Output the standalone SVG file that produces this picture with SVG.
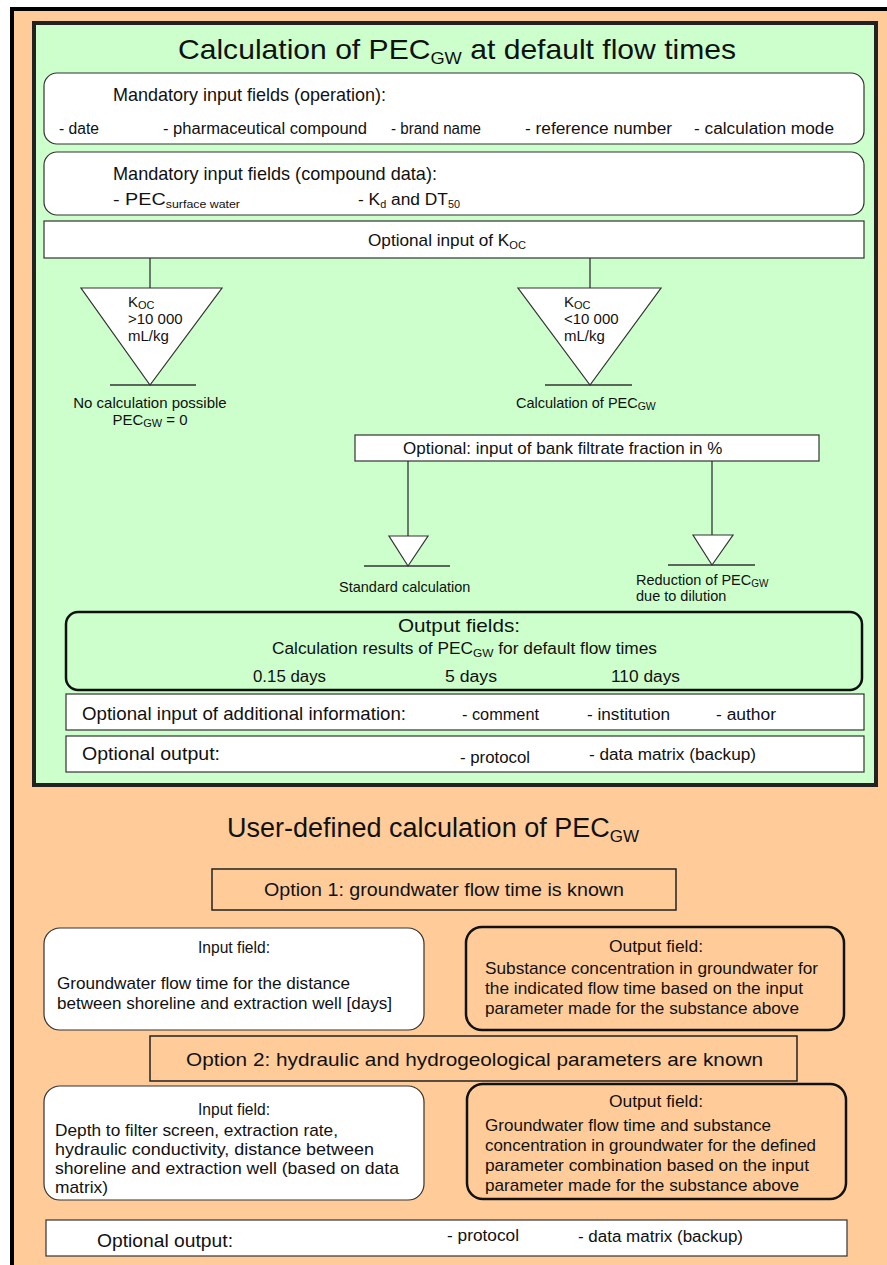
<svg xmlns="http://www.w3.org/2000/svg" width="887" height="1265" viewBox="0 0 887 1265">
<style>
.n{font-family:"Liberation Sans",Arial,sans-serif;fill:#111}
.r{font-family:"Liberation Sans",Arial,sans-serif;fill:#111}
.box{fill:#fff;stroke:#333;stroke-width:1.2}
.obox{fill:#ffcc99;stroke:#222;stroke-width:1.5}
.thick{stroke:#111;stroke-width:2.5}
.ln{stroke:#333;stroke-width:1.3;fill:none}
.tri{fill:#fff;stroke:#333;stroke-width:1.2}
</style>
<rect x="0" y="0" width="887" height="1265" fill="#fff"/>
<g id="outer">
<rect x="12" y="9" width="890" height="1270" fill="#ffcc99" stroke="#000" stroke-width="4"/>
</g>
<g id="default-panel">
<rect x="34" y="23" width="842" height="762" fill="#ccffcc" stroke="#222" stroke-width="4"/>
<text class="n" x="178" y="59" font-size="28" textLength="558" lengthAdjust="spacingAndGlyphs">Calculation of PEC<tspan dy="5" font-size="17">GW</tspan><tspan dy="-5"> at default flow times</tspan></text>
</g>
<g id="op-fields">
<rect class="box" x="44" y="73" width="820" height="71" rx="13"/>
<text class="n" x="113" y="101" font-size="19" textLength="273" lengthAdjust="spacingAndGlyphs">Mandatory input fields (operation):</text>
<text class="n" x="59" y="134" font-size="16" textLength="40" lengthAdjust="spacingAndGlyphs">- date</text>
<text class="n" x="163" y="134" font-size="16" textLength="204" lengthAdjust="spacingAndGlyphs">- pharmaceutical compound</text>
<text class="n" x="391" y="134" font-size="16" textLength="90" lengthAdjust="spacingAndGlyphs">- brand name</text>
<text class="n" x="525" y="134" font-size="16" textLength="147" lengthAdjust="spacingAndGlyphs">- reference number</text>
<text class="n" x="694" y="134" font-size="16" textLength="140" lengthAdjust="spacingAndGlyphs">- calculation mode</text>
</g>
<g id="compound-fields">
<rect class="box" x="44" y="152" width="820" height="63" rx="13"/>
<text class="n" x="113" y="180" font-size="19" textLength="324" lengthAdjust="spacingAndGlyphs">Mandatory input fields (compound data):</text>
<text class="n" x="113" y="205" font-size="16" textLength="127" lengthAdjust="spacingAndGlyphs">- PEC<tspan dy="3" font-size="10">surface water</tspan></text>
<text class="n" x="358" y="205" font-size="16" textLength="102" lengthAdjust="spacingAndGlyphs">- K<tspan dy="3" font-size="10">d</tspan><tspan dy="-3"> and DT</tspan><tspan dy="3" font-size="10">50</tspan></text>
</g>
<g id="koc-input">
<rect class="box" x="44" y="221" width="820" height="37"/>
<text class="n" x="368" y="246" font-size="17" textLength="158" lengthAdjust="spacingAndGlyphs">Optional input of K<tspan dy="3" font-size="11">OC</tspan></text>
</g>
<g id="connectors">
<line class="ln" x1="150" y1="258" x2="150" y2="288"/>
<line class="ln" x1="590" y1="258" x2="590" y2="288"/>
<line class="ln" x1="408" y1="461" x2="408" y2="536"/>
<line class="ln" x1="712" y1="461" x2="712" y2="535"/>
</g>
<g id="koc-high">
<polygon class="tri" points="81,288 222,288 150,385"/>
<line class="ln" x1="110" y1="385" x2="196" y2="385"/>
<text class="r" x="128" y="307" font-size="15">K<tspan font-size="11" dy="2">OC</tspan></text>
<text class="r" x="128" y="324" font-size="15">&gt;10 000</text>
<text class="r" x="128" y="341" font-size="15">mL/kg</text>
<text class="r" x="150" y="408" font-size="15" text-anchor="middle">No calculation possible</text>
<text class="r" x="150" y="425" font-size="15" text-anchor="middle">PEC<tspan font-size="11" dy="2">GW</tspan><tspan dy="-2"> = 0</tspan></text>
</g>
<g id="koc-low">
<polygon class="tri" points="518,288 661,288 590,385"/>
<line class="ln" x1="545" y1="385" x2="632" y2="385"/>
<text class="r" x="564" y="307" font-size="15">K<tspan font-size="11" dy="2">OC</tspan></text>
<text class="r" x="564" y="324" font-size="15">&lt;10 000</text>
<text class="r" x="564" y="341" font-size="15">mL/kg</text>
<text class="r" x="516" y="408" font-size="14.5">Calculation of PEC<tspan font-size="10.5" dy="2">GW</tspan></text>
</g>
<g id="bank-filtrate">
<rect class="box" x="355" y="435" width="464" height="26"/>
<text class="r" x="403" y="454" font-size="17">Optional: input of bank filtrate fraction in %</text>
</g>
<g id="standard">
<polygon class="tri" points="389,536 428,536 408,566"/>
<line class="ln" x1="364" y1="566" x2="450" y2="566"/>
<text class="r" x="339" y="592" font-size="14.5">Standard calculation</text>
</g>
<g id="reduction">
<polygon class="tri" points="693,535 733,535 712,565"/>
<line class="ln" x1="668" y1="565" x2="755" y2="565"/>
<text class="r" x="636" y="585" font-size="14.5">Reduction of PEC<tspan font-size="10" dy="2">GW</tspan></text>
<text class="r" x="636" y="601" font-size="14.5">due to dilution</text>
</g>
<g id="output-fields">
<rect x="66" y="612" width="796" height="78" rx="12" fill="#ccffcc" class="thick"/>
<text class="n" x="398" y="632" font-size="19" textLength="122" lengthAdjust="spacingAndGlyphs">Output fields:</text>
<text class="n" x="272" y="654" font-size="16" textLength="385" lengthAdjust="spacingAndGlyphs">Calculation results of PEC<tspan dy="3" font-size="11">GW</tspan><tspan dy="-3"> for default flow times</tspan></text>
<text class="n" x="253" y="682" font-size="16" textLength="73" lengthAdjust="spacingAndGlyphs">0.15 days</text>
<text class="n" x="445" y="682" font-size="16" textLength="52" lengthAdjust="spacingAndGlyphs">5 days</text>
<text class="n" x="611" y="682" font-size="16" textLength="69" lengthAdjust="spacingAndGlyphs">110 days</text>
</g>
<g id="additional-info">
<rect class="box" x="66" y="694" width="798" height="36"/>
<text class="n" x="82" y="720" font-size="19" textLength="324" lengthAdjust="spacingAndGlyphs">Optional input of additional information:</text>
<text class="n" x="462" y="720" font-size="16" textLength="77" lengthAdjust="spacingAndGlyphs">- comment</text>
<text class="n" x="587" y="720" font-size="16" textLength="83" lengthAdjust="spacingAndGlyphs">- institution</text>
<text class="n" x="716" y="720" font-size="16" textLength="60" lengthAdjust="spacingAndGlyphs">- author</text>
</g>
<g id="optional-output-1">
<rect class="box" x="66" y="736" width="798" height="36"/>
<text class="n" x="82" y="760" font-size="19" textLength="138" lengthAdjust="spacingAndGlyphs">Optional output:</text>
<text class="n" x="460" y="763" font-size="16" textLength="70" lengthAdjust="spacingAndGlyphs">- protocol</text>
<text class="n" x="589" y="760" font-size="16" textLength="167" lengthAdjust="spacingAndGlyphs">- data matrix (backup)</text>
</g>
<g id="user-title">
<text class="n" x="227" y="837" font-size="27">User-defined calculation of PEC<tspan dy="5" font-size="17">GW</tspan></text>
</g>
<g id="option1">
<rect class="obox" x="212" y="869" width="464" height="41"/>
<text class="n" x="264" y="896" font-size="19" textLength="360" lengthAdjust="spacingAndGlyphs">Option 1: groundwater flow time is known</text>
</g>
<g id="input1">
<rect class="box" x="44" y="928" width="380" height="102" rx="16"/>
<text class="n" x="198" y="953" font-size="16" textLength="72" lengthAdjust="spacingAndGlyphs">Input field:</text>
<text class="n" x="57" y="989" font-size="17" textLength="293" lengthAdjust="spacingAndGlyphs">Groundwater flow time for the distance</text>
<text class="n" x="57" y="1009" font-size="17" textLength="335" lengthAdjust="spacingAndGlyphs">between shoreline and extraction well [days]</text>
</g>
<g id="output1">
<rect x="466" y="927" width="378" height="103" rx="16" fill="#ffcc99" class="thick"/>
<text class="n" x="609" y="952" font-size="16" textLength="94" lengthAdjust="spacingAndGlyphs">Output field:</text>
<text class="n" x="485" y="974" font-size="17" textLength="333" lengthAdjust="spacingAndGlyphs">Substance concentration in groundwater for</text>
<text class="n" x="485" y="994" font-size="17" textLength="318" lengthAdjust="spacingAndGlyphs">the indicated flow time based on the input</text>
<text class="n" x="485" y="1014" font-size="17" textLength="314" lengthAdjust="spacingAndGlyphs">parameter made for the substance above</text>
</g>
<g id="option2">
<rect class="obox" x="150" y="1036" width="647" height="45"/>
<text class="n" x="186" y="1066" font-size="19" textLength="577" lengthAdjust="spacingAndGlyphs">Option 2: hydraulic and hydrogeological parameters are known</text>
</g>
<g id="input2">
<rect class="box" x="44" y="1086" width="380" height="114" rx="16"/>
<text class="n" x="198" y="1115" font-size="16" textLength="72" lengthAdjust="spacingAndGlyphs">Input field:</text>
<text class="n" x="55" y="1136" font-size="17" textLength="283" lengthAdjust="spacingAndGlyphs">Depth to filter screen, extraction rate,</text>
<text class="n" x="55" y="1155" font-size="17" textLength="319" lengthAdjust="spacingAndGlyphs">hydraulic conductivity, distance between</text>
<text class="n" x="55" y="1174" font-size="17" textLength="344" lengthAdjust="spacingAndGlyphs">shoreline and extraction well (based on data</text>
<text class="n" x="55" y="1193" font-size="17" textLength="53" lengthAdjust="spacingAndGlyphs">matrix)</text>
</g>
<g id="output2">
<rect x="467" y="1084" width="379" height="115" rx="16" fill="#ffcc99" class="thick"/>
<text class="n" x="609" y="1107" font-size="16" textLength="94" lengthAdjust="spacingAndGlyphs">Output field:</text>
<text class="n" x="485" y="1131" font-size="17" textLength="286" lengthAdjust="spacingAndGlyphs">Groundwater flow time and substance</text>
<text class="n" x="485" y="1151" font-size="17" textLength="331" lengthAdjust="spacingAndGlyphs">concentration in groundwater for the defined</text>
<text class="n" x="485" y="1171" font-size="17" textLength="324" lengthAdjust="spacingAndGlyphs">parameter combination based on the input</text>
<text class="n" x="485" y="1191" font-size="17" textLength="314" lengthAdjust="spacingAndGlyphs">parameter made for the substance above</text>
</g>
<g id="optional-output-2">
<rect class="box" x="46" y="1220" width="801" height="36"/>
<text class="n" x="97" y="1247" font-size="19" textLength="136" lengthAdjust="spacingAndGlyphs">Optional output:</text>
<text class="n" x="447" y="1241" font-size="16" textLength="72" lengthAdjust="spacingAndGlyphs">- protocol</text>
<text class="n" x="578" y="1242" font-size="16" textLength="165" lengthAdjust="spacingAndGlyphs">- data matrix (backup)</text>
</g>
</svg>
